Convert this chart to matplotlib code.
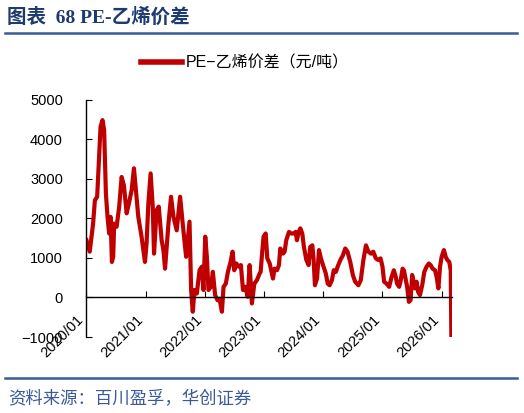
import matplotlib
matplotlib.use("Agg")
import matplotlib.pyplot as plt
import matplotlib.dates as mdates
from matplotlib.lines import Line2D
import numpy as np
import pandas as pd

# PE-乙烯价差 (元/吨)
dates = [
    "2020-01-01", "2020-01-21", "2020-02-01", "2020-02-11", "2020-02-22", "2020-03-07",
    "2020-03-19", "2020-03-28", "2020-04-09", "2020-04-19", "2020-04-30", "2020-05-10",
    "2020-05-20", "2020-05-29", "2020-06-06", "2020-06-14", "2020-06-20", "2020-07-05",
    "2020-07-21", "2020-08-05", "2020-08-19", "2020-09-05", "2020-09-19", "2020-10-06",
    "2020-10-20", "2020-11-01", "2020-11-16", "2020-12-06", "2020-12-27",
    "2021-01-06", "2021-01-17", "2021-01-31", "2021-02-13", "2021-02-21", "2021-03-09",
    "2021-03-22", "2021-04-09", "2021-04-20", "2021-04-30", "2021-05-10", "2021-05-21",
    "2021-06-06", "2021-06-21", "2021-07-11", "2021-08-01", "2021-08-17", "2021-09-07",
    "2021-09-28", "2021-10-08", "2021-10-18", "2021-10-29", "2021-11-12", "2021-11-29",
    "2021-12-13", "2021-12-23",
    "2022-01-03", "2022-01-13", "2022-01-23", "2022-02-07", "2022-02-19", "2022-03-05",
    "2022-03-20", "2022-04-01", "2022-04-16", "2022-04-26", "2022-05-10", "2022-05-23",
    "2022-06-06", "2022-06-21", "2022-07-01", "2022-07-14", "2022-07-28", "2022-08-11",
    "2022-08-24", "2022-09-07", "2022-09-22", "2022-10-04", "2022-10-18", "2022-11-02",
    "2022-11-18", "2022-12-05", "2022-12-11", "2022-12-19", "2022-12-29",
    "2023-01-11", "2023-01-21", "2023-02-05", "2023-02-25", "2023-03-07", "2023-03-22",
    "2023-04-03", "2023-04-11", "2023-04-28", "2023-05-08", "2023-05-18", "2023-06-04",
    "2023-06-18", "2023-07-03", "2023-07-15", "2023-07-23", "2023-08-03", "2023-08-13",
    "2023-08-25", "2023-09-04", "2023-09-19", "2023-10-03", "2023-10-13", "2023-10-26",
    "2023-11-03", "2023-11-11", "2023-11-24", "2023-12-06", "2023-12-18", "2023-12-31",
    "2024-01-17", "2024-01-29", "2024-02-10", "2024-02-24", "2024-03-06", "2024-03-20",
    "2024-03-30", "2024-04-16", "2024-05-02", "2024-05-16", "2024-05-30", "2024-06-16",
    "2024-07-02", "2024-07-16", "2024-08-05", "2024-08-20", "2024-09-05", "2024-09-21",
    "2024-10-06", "2024-10-22", "2024-11-05", "2024-11-21", "2024-12-05", "2024-12-20",
    "2025-01-01", "2025-01-11", "2025-01-26", "2025-02-11", "2025-02-26", "2025-03-12",
    "2025-03-24", "2025-04-01", "2025-04-14", "2025-04-22", "2025-05-05", "2025-05-13",
    "2025-05-25", "2025-06-02", "2025-06-13", "2025-06-23", "2025-07-03", "2025-07-10",
    "2025-07-20", "2025-07-30", "2025-08-09", "2025-08-20", "2025-09-03", "2025-09-16",
    "2025-09-30", "2025-10-14", "2025-10-25", "2025-11-06", "2025-11-21", "2025-12-01",
    "2025-12-12", "2025-12-22",
    "2026-01-01", "2026-01-15", "2026-01-26", "2026-02-05", "2026-02-17", "2026-02-26",
    "2026-03-02",
]
spread = [
    1450, 1160, 1540, 1870, 2460, 2550,
    3560, 4320, 4490, 4240, 2630, 2040,
    1620, 2040, 900, 1030, 1870, 1790,
    2300, 3050, 2840, 2130, 2380, 2720,
    3270, 2720, 2040, 1540, 900,
    1370, 2380, 3140, 2300, 1110, 2210,
    2300, 1450, 1200, 730, 1280, 1870,
    2550, 2040, 1700, 2550, 1870, 1030,
    1920, 190, -360, 190, 100, 690,
    780, 190,
    1540, 1030, 190, 270, 650, 60,
    -70, -30, -360, 270, 350, 650,
    860, 1160, 690, 860, 780, 820,
    190, 270, 20, 820, -150, 350,
    440, 610, 650, 1070, 1540,
    1620, 990, 860, 480, 730, 690,
    820, 1240, 1110, 1160, 1450, 1660,
    1620, 1620, 1660, 1450, 1660, 1750,
    1620, 1280, 950, 820, 1280, 1320,
    950, 310, 480, 1200, 990, 820,
    610, 350, 310, 440, 690, 650,
    780, 950, 1070, 1240, 1160, 900,
    570, 400, 310, 440, 950, 1320,
    1160, 1110, 1160, 990, 950, 990,
    780, 400, 350, 270, 520, 690,
    520, 350, 270, 400, 730, 690,
    440, 270, -110, -70, 570, 440,
    230, 400, 140, 60, 310, 650,
    780, 860, 820, 730, 690, 520,
    230, 780,
    1030, 1200, 1030, 950, 900, 690,
    -1000,
]
yticks = [-1000, 0, 1000, 2000, 3000, 4000, 5000]
xtick_dates = ["2020-01-01", "2021-01-01", "2022-01-01", "2023-01-01",
               "2024-01-01", "2025-01-01", "2026-01-01"]

RED = "#C00000"
NAVY = "#1F3A6E"
BLUE = "#3A5A9A"
CJK = ["Liberation Sans", "Noto Sans CJK SC"]

fig = plt.figure(figsize=(5.24, 4.13), dpi=100)
ax = fig.add_axes([0.165, 0.184, 0.697, 0.574])

x = pd.to_datetime(dates)
ax.plot(x, spread, color=RED, lw=3, solid_joinstyle="round",
        label="PE−乙烯价差（元/吨）")

ax.set_ylim(-1000, 5000)
ax.set_xlim(pd.Timestamp("2020-01-01"), pd.Timestamp("2026-03-04"))
ax.set_yticks(yticks)
ax.set_xticks(pd.to_datetime(xtick_dates))
ax.xaxis.set_major_formatter(mdates.DateFormatter("%Y/%m"))

ax.spines["top"].set_visible(False)
ax.spines["right"].set_visible(False)
ax.spines["bottom"].set_position(("data", 0))
for s in ("left", "bottom"):
    ax.spines[s].set_linewidth(1.0)
    ax.spines[s].set_color("black")

ax.tick_params(axis="y", direction="in", length=4, pad=17, labelsize=10.5)
ax.tick_params(axis="x", direction="in", length=4, pad=11, labelsize=10.5)
for lab in ax.get_xticklabels():
    lab.set_rotation(45)
    lab.set_ha("right")
    lab.set_va("top")
for lab in ax.get_xticklabels() + ax.get_yticklabels():
    lab.set_family(["Liberation Sans", "DejaVu Sans"])

leg = fig.legend(loc="center", bbox_to_anchor=(245 / 524, 1 - 63 / 413),
                 frameon=False, handlelength=2.6, handletextpad=0.25,
                 prop={"family": CJK, "size": 11.5})
for h in leg.legend_handles:
    h.set_linewidth(4)

fig.text(7 / 524, 1 - 17 / 413, "图表  68 PE-乙烯价差", color=NAVY, fontsize=14,
         fontweight="bold", family=["Liberation Serif", "Noto Sans CJK SC"],
         ha="left", va="center")
fig.add_artist(Line2D([5 / 524, 517 / 524], [1 - 33 / 413] * 2, color=BLUE, lw=1.8))
fig.add_artist(Line2D([5 / 524, 517 / 524], [1 - 378 / 413] * 2, color=BLUE, lw=1.8))
fig.text(8 / 524, 1 - 399 / 413, "资料来源：百川盈孚，华创证券", color=BLUE, fontsize=12.5,
         fontstyle="italic", family=["Noto Sans CJK SC"], ha="left", va="center")

fig.savefig("out.png", dpi=100)
